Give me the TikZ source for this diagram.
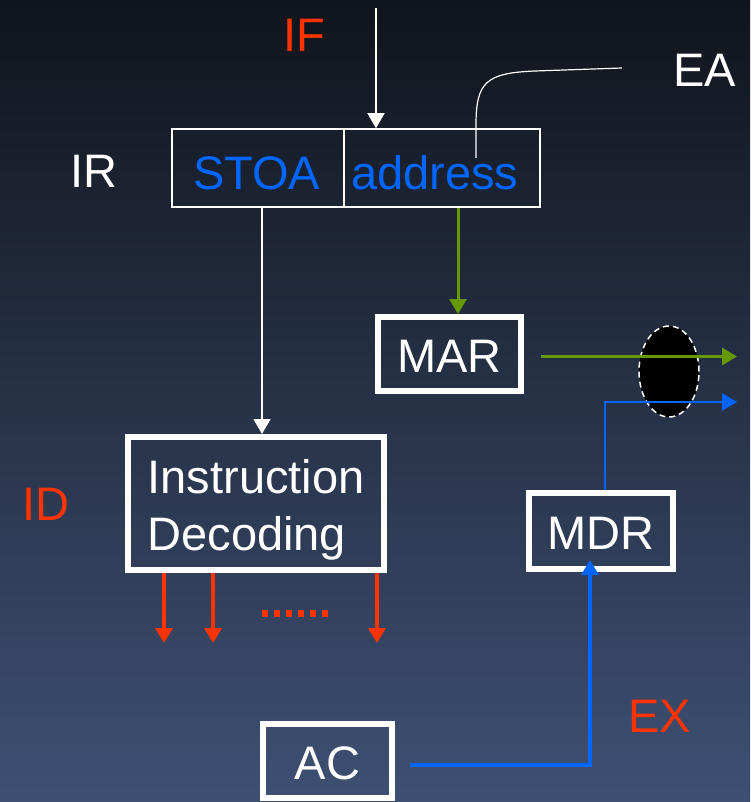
\documentclass[tikz,border=0pt]{standalone}
\usepackage{fontspec}
\setmainfont{Liberation Sans}
\usetikzlibrary{arrows.meta,shapes.geometric}
\definecolor{bgtop}{RGB}{16,20,28}
\definecolor{bgbot}{RGB}{62,80,115}
\definecolor{stagered}{RGB}{255,51,0}
\definecolor{fieldblue}{RGB}{0,102,255}
\definecolor{addrgreen}{RGB}{102,153,0}
\tikzset{
  big/.style={font=\fontsize{47pt}{57pt}\selectfont},
  stage/.style={big,text=stagered,inner sep=0pt,anchor=base west},
  plain/.style={big,text=white,inner sep=0pt,anchor=base west},
  field/.style={big,text=fieldblue,inner sep=0pt,anchor=base west},
  cell/.style={draw=white,line width=1.5pt,inner sep=0pt,minimum height=78pt},
  reg/.style={draw=white,line width=6pt,big,text=white,inner sep=0pt},
  oneline/.style={text height=37pt,text depth=0pt},
  tip/.style={-{Triangle[length=15pt,width=17pt]}},
  wire/.style={white,line width=1.5pt,tip},
  redout/.style={stagered,line width=4pt,tip},
}
\begin{document}
\begin{tikzpicture}[x=1pt,y=-1pt]
  % background
  \shade[top color=bgtop,bottom color=bgbot] (0,0) rectangle (750,802);
  \useasboundingbox (0,0) rectangle (750,802);

  % stage labels
  \node[stage] (if) at (283,52) {IF};
  \node[stage] (id) at (22,520) {ID};
  \node[stage] (ex) at (628,732) {EX};
  \node[plain] (ea) at (673,87) {EA};
  \node[plain] (ir) at (70,188) {IR};

  % instruction register: opcode and address fields
  \node[cell,minimum width=172pt] (opcell) at (258,168) {};
  \node[cell,minimum width=196pt] (addrcell) at (442,168) {};
  \node[field] (stoa) at (193,190) {STOA};
  \node[field] (addr) at (351,190) {address};

  % registers and decoder
  \node[reg,oneline,minimum width=143pt,minimum height=74pt] (mar) at (449.5,354) {MAR};
  \node[reg,oneline,minimum width=144pt,minimum height=76pt] (mdr) at (601,531) {MDR};
  \node[reg,oneline,minimum width=129pt,minimum height=74pt] (ac) at (327.5,761) {AC};
  \node[reg,minimum width=256pt,minimum height=133pt] (dec) at (256,503.5)
    {\raisebox{-7pt}[\height][\depth]{\begin{tabular}{@{}l@{}}Instruction\\Decoding\end{tabular}}};

  % memory bus port
  \node[ellipse,fill=black,draw=white,line width=1.5pt,dash pattern=on 6pt off 4pt,
        minimum width=60pt,minimum height=91pt,inner sep=0pt] (port) at (669,371.5) {};

  % free ends
  \coordinate (ifsrc) at (376,8);
  \coordinate (eaend) at (622,68);
  \coordinate (eafoot) at (476,158);
  \coordinate (marout) at (737,356.5);
  \coordinate (mdrout) at (737,402);
  \coordinate (mdrbend) at (605,402);
  \coordinate (acbend) at (590,765);
  \coordinate (opx) at (262,0);
  \coordinate (addrx) at (458,0);
  \coordinate (dA) at (164,643);
  \coordinate (dB) at (213,643);
  \coordinate (dC) at (377,643);

  % fetch into IR
  \draw[wire] (ifsrc) -- (ifsrc |- addrcell.north);
  % EA callout
  \draw[white,line width=1.2pt] (eafoot) -- (476,125)
     .. controls (476,82) and (486,73) .. (535,71) -- (eaend);
  % opcode to decoder
  \draw[wire] (opx |- opcell.south) -- (opx |- dec.north);
  % address to MAR
  \draw[addrgreen,line width=3pt,tip] (addrx |- addrcell.south) -- (addrx |- mar.north);
  % MAR and MDR onto the bus
  \draw[addrgreen,line width=3.5pt,tip] ([xshift=17pt]mar.east |- marout) -- (marout);
  \draw[fieldblue,line width=2.5pt,tip] (mdrbend |- mdr.north) -- (mdrbend) -- (mdrout);
  % AC to MDR
  \draw[fieldblue,line width=3.5pt,tip] ([xshift=15pt]ac.east |- acbend) -- (acbend) -- ([yshift=12pt]acbend |- mdr.south);

  % decoder control outputs
  \draw[redout] (dA |- dec.south) -- (dA);
  \draw[redout] (dB |- dec.south) -- (dB);
  \draw[redout] (dC |- dec.south) -- (dC);
  \draw[stagered,line width=7pt,dash pattern=on 6pt off 6pt] (262,613.5) -- (329,613.5);
\end{tikzpicture}
\end{document}
